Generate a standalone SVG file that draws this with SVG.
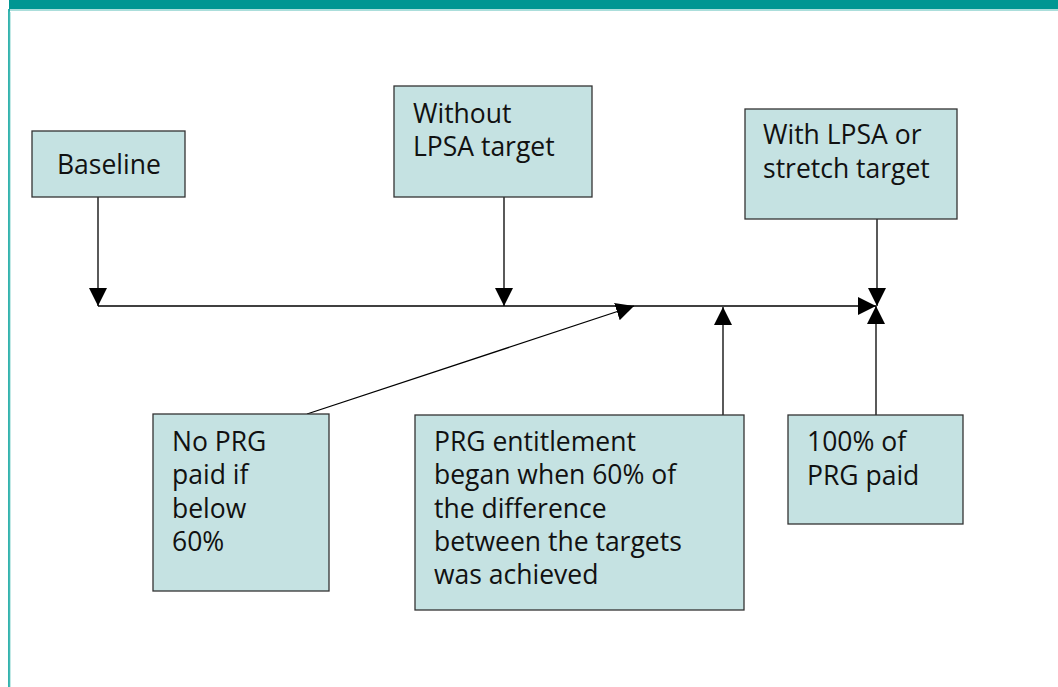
<svg xmlns="http://www.w3.org/2000/svg" width="1058" height="687" viewBox="0 0 1058 687">
<defs>
<style>
.box{fill:#c5e2e2;stroke:#333;stroke-width:1.3}
.t{font-family:"Open Sans","Liberation Sans",sans-serif;font-size:26.5px;fill:#111}
.c{stroke:#000;stroke-width:1.3;fill:none}
</style>
<marker id="ah" viewBox="0 0 18 18" refX="18" refY="9" markerWidth="18" markerHeight="18" markerUnits="userSpaceOnUse" orient="auto">
<path d="M0,0 L18,9 L0,18 Z" fill="#000"/>
</marker>
</defs>
<rect x="0" y="0" width="1058" height="687" fill="#fff"/>
<rect x="9" y="0" width="1049" height="9" fill="#009692"/>
<line x1="9" y1="10" x2="1058" y2="10" stroke="#8fd3cf" stroke-width="1.5"/>
<line x1="9" y1="9" x2="9" y2="687" stroke="#00a09a" stroke-width="1.6"/>
<line x1="10.3" y1="12" x2="10.3" y2="687" stroke="#9fdcd8" stroke-width="0.8"/>

<g id="connectors">
<line class="c" x1="98" y1="306" x2="876" y2="306" marker-end="url(#ah)"/>
<line class="c" x1="98" y1="197" x2="98" y2="306" marker-end="url(#ah)"/>
<line class="c" x1="504" y1="197" x2="504" y2="306" marker-end="url(#ah)"/>
<line class="c" x1="877" y1="219" x2="877" y2="306" marker-end="url(#ah)"/>
<line class="c" x1="307" y1="414" x2="634" y2="306" marker-end="url(#ah)"/>
<line class="c" x1="723" y1="415" x2="723" y2="307" marker-end="url(#ah)"/>
<line class="c" x1="876" y1="415" x2="876" y2="306" marker-end="url(#ah)"/>
</g>

<g id="baseline">
<rect class="box" x="32" y="131" width="153" height="66"/>
<text class="t" x="57" y="174">Baseline</text>
</g>
<g id="without">
<rect class="box" x="394" y="86" width="198" height="111"/>
<text class="t" x="413" y="123">Without</text>
<text class="t" x="413" y="156">LPSA target</text>
</g>
<g id="with">
<rect class="box" x="745" y="109" width="212" height="110"/>
<text class="t" x="763" y="144">With LPSA or</text>
<text class="t" x="763" y="178">stretch target</text>
</g>
<g id="noprg">
<rect class="box" x="153" y="414" width="176" height="177"/>
<text class="t" x="172" y="451">No PRG</text>
<text class="t" x="172" y="484">paid if</text>
<text class="t" x="172" y="518">below</text>
<text class="t" x="172" y="551">60%</text>
</g>
<g id="entitlement">
<rect class="box" x="415" y="415" width="329" height="195"/>
<text class="t" x="434" y="451">PRG entitlement</text>
<text class="t" x="434" y="484">began when 60% of</text>
<text class="t" x="434" y="518">the difference</text>
<text class="t" x="434" y="551">between the targets</text>
<text class="t" x="434" y="584">was achieved</text>
</g>
<g id="full">
<rect class="box" x="788" y="415" width="175" height="109"/>
<text class="t" x="807" y="451">100% of</text>
<text class="t" x="807" y="485">PRG paid</text>
</g>
</svg>
